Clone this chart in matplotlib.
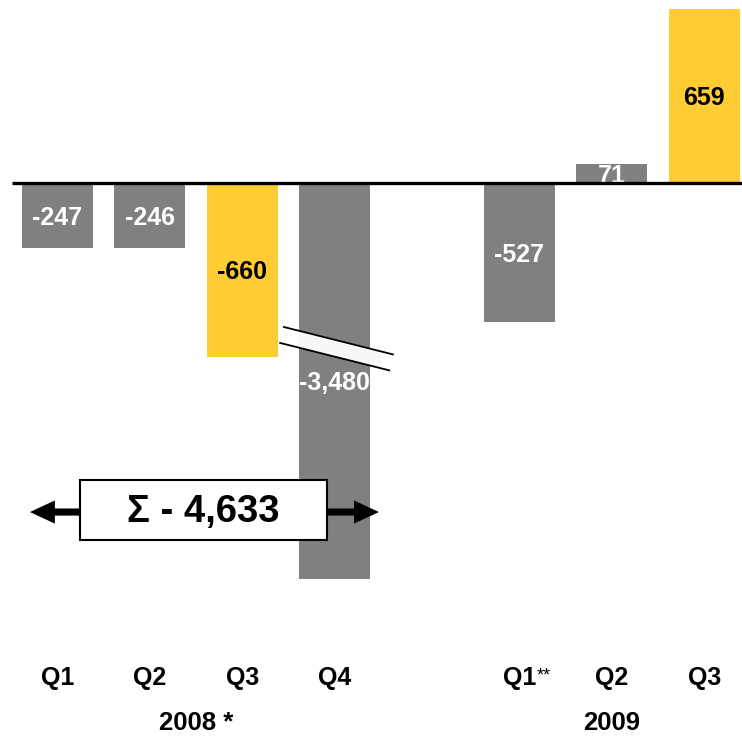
import numpy as np
import matplotlib.pyplot as plt
from matplotlib.patches import Rectangle, Polygon, FancyArrow

plt.rcParams['font.family'] = ['Liberation Sans', 'DejaVu Sans']

# data
quarters = ["Q1", "Q2", "Q3", "Q4", "Q1", "Q2", "Q3"]
positions = [0, 1, 2, 3, 5, 6, 7]
values = [-247, -246, -660, -3480, -527, 71, 659]
highlight = [False, False, True, False, False, False, True]
years = ["2008 *", "2009"]
year_centers = [1.5, 6]
total_label = "\u03a3 - 4,633"

GRAY = "#808080"
YELLOW = "#FFCC33"
broken_depth = 1500  # Q4 is drawn cut off at this depth (axis break)

fig = plt.figure(figsize=(7.42, 7.36), dpi=100)
ax = fig.add_axes([0, 0, 1, 1])
ax.set_xlim(-0.622, 7.408)
ax.set_ylim(-2096, 694)
ax.axis("off")

shown = [max(v, -broken_depth) for v in values]
colors = [YELLOW if h else GRAY for h in highlight]
ax.bar(positions, shown, width=0.77, color=colors, zorder=2)

for x, v, s, h in zip(positions, values, shown, highlight):
    ax.text(x, s / 2 - 8, f"{v:,}", ha="center", va="center", fontsize=18,
            fontweight="bold", color="black" if h else "white", zorder=3)

ax.plot([-0.49, 7.408], [0, 0], color="black", lw=2.4, zorder=4,
        solid_capstyle="butt")

# axis break on the Q4 bar
bx = positions[3]
slope = -88
up0 = -594
lo0 = -658
xs = np.array([bx - 0.4, bx + 0.5])
band = Polygon([[xs[0], up0 + slope * (xs[0] - bx)], [xs[1], up0 + slope * (xs[1] - bx)],
                [xs[1], lo0 + slope * (xs[1] - bx)], [xs[0], lo0 + slope * (xs[0] - bx)]],
               closed=True, facecolor="#f7f7f7", edgecolor="none", zorder=3)
ax.add_patch(band)
ux = np.array([bx - 0.55, bx + 0.63])
lx = np.array([bx - 0.59, bx + 0.59])
ax.plot(ux, up0 + slope * (ux - bx), color="black", lw=1.3, zorder=4)
ax.plot(lx, lo0 + slope * (lx - bx), color="black", lw=1.3, zorder=4)

# total arrow + box
ay = -1247
box_l, box_r = 0.244, 2.917
for start, tip in [(box_l + 0.05, -0.298), (box_r - 0.05, 3.479)]:
    ax.add_patch(FancyArrow(start, ay, tip - start, 0, width=27, head_width=88,
                            head_length=0.27, length_includes_head=True,
                            color="black", lw=0, zorder=5))
ax.add_patch(Rectangle((box_l, -1353), box_r - box_l, 227, facecolor="white",
                       edgecolor="black", lw=1.5, zorder=6))
ax.text((box_l + box_r) / 2, ay, total_label, ha="center", va="center",
        fontsize=27.5, fontweight="bold", zorder=7)

# category labels
for x, q in zip(positions, quarters):
    ax.text(x, -1875, q, ha="center", va="center", fontsize=18, fontweight="bold")
ax.text(5.19, -1868, "**", ha="left", va="center", fontsize=13)
for x, y in zip(year_centers, years):
    ax.text(x, -2048, y, ha="center", va="center", fontsize=18.5, fontweight="bold")

fig.savefig("out.png", dpi=100)
